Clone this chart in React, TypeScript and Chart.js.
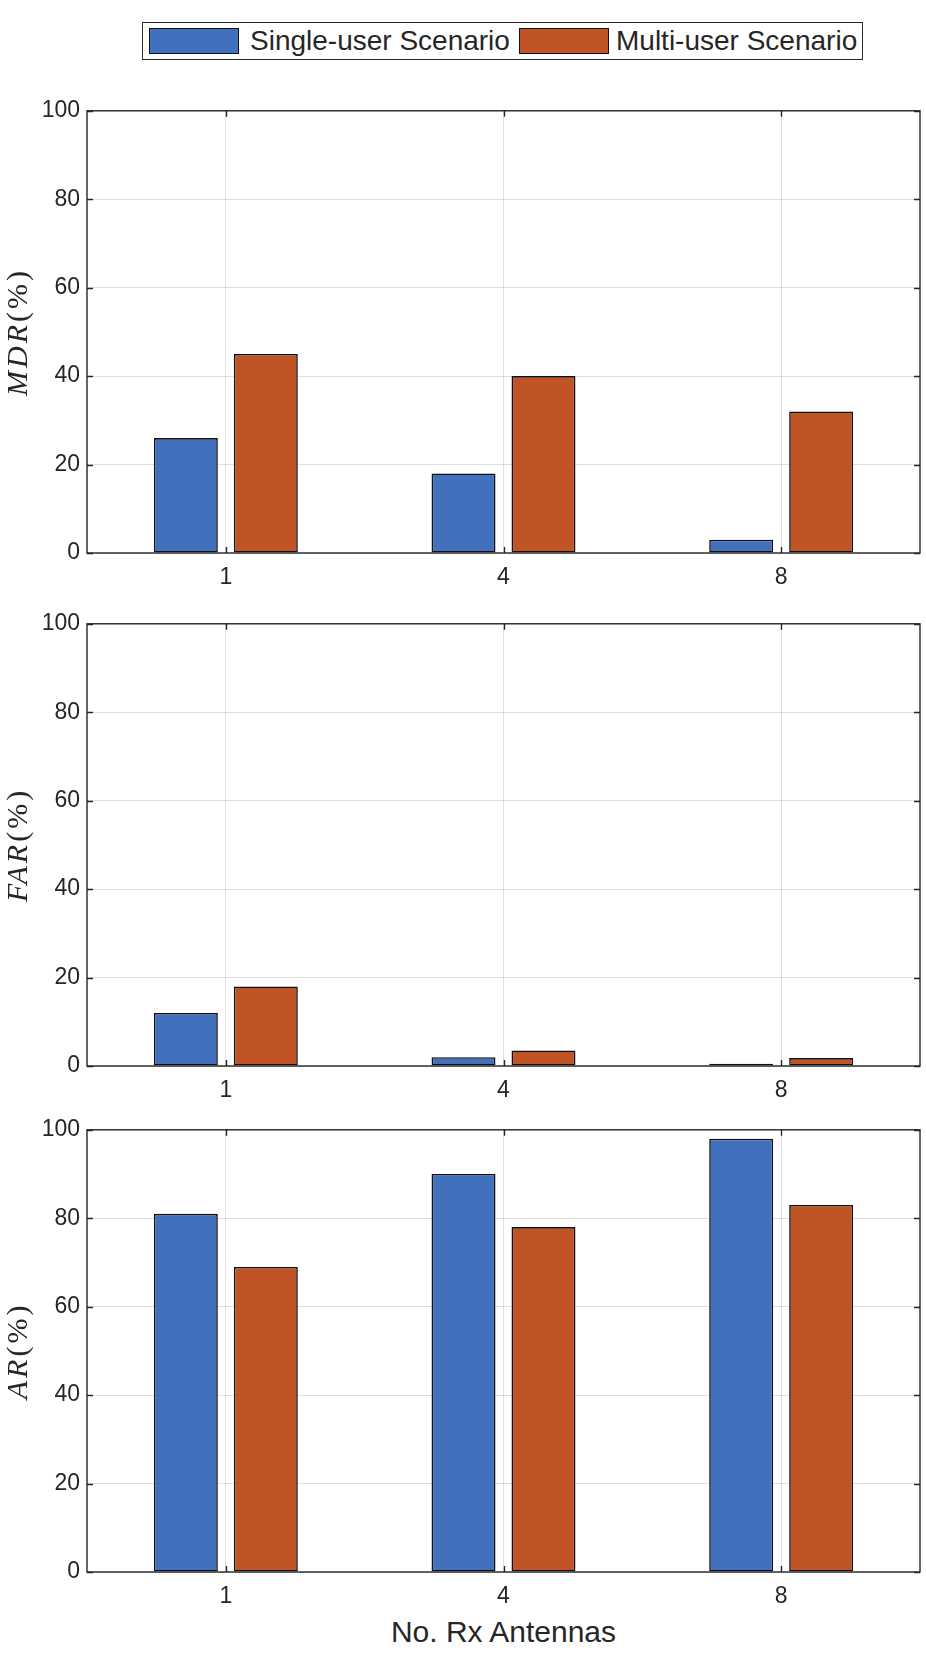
import React, { useEffect, useRef } from "react";
import { Chart, registerables } from "chart.js";

Chart.register(...registerables);

// ---- data ----
const categories = ["1", "4", "8"];
const seriesLabels = ["Single-user Scenario", "Multi-user Scenario"];
const mdrSingle = [26, 18, 3];
const mdrMulti = [45, 40, 32];
const farSingle = [12, 2, 0.5];
const farMulti = [18, 3.5, 1.8];
const arSingle = [81, 90, 98];
const arMulti = [69, 78, 83];
const yMin = 0;
const yMax = 100;
const yStep = 20;
const panelNames = ["MDR", "FAR", "AR"];
const xAxisLabel = "No. Rx Antennas";

// ---- style ----
const BLUE = "#4171bc";
const ORANGE = "#c05424";
const TEXT = "#262626";
const GRID = "rgba(38,38,38,0.15)";
const SANS = "'Liberation Sans', Arial, Helvetica, sans-serif";
const SERIF = "'Liberation Serif', 'Times New Roman', serif";

const PAD_TOP = 15;
const X_AXIS_H = 40;
const Y_AXIS_W = 87;
const PLOT_H = 448;

const framePlugin = {
  id: "matlabFrame",
  afterDatasetsDraw(chart: any, _args: any, opts: any) {
    const { ctx, chartArea: a, scales } = chart;
    ctx.save();
    ctx.strokeStyle = TEXT;
    ctx.lineWidth = 1.4;
    const tl = 6;
    ctx.beginPath();
    scales.y.ticks.forEach((t: any) => {
      const y = Math.round(scales.y.getPixelForValue(t.value)) + 0.5;
      ctx.moveTo(a.left, y);
      ctx.lineTo(a.left + tl, y);
      ctx.moveTo(a.right, y);
      ctx.lineTo(a.right - tl, y);
    });
    scales.x.ticks.forEach((_t: any, i: number) => {
      const x = Math.round(scales.x.getPixelForTick(i)) + 0.5;
      ctx.moveTo(x, a.bottom);
      ctx.lineTo(x, a.bottom - tl);
      ctx.moveTo(x, a.top);
      ctx.lineTo(x, a.top + tl);
    });
    ctx.stroke();
    ctx.strokeRect(a.left, a.top, a.right - a.left, a.bottom - a.top);

    // y title: italic name + upright (%)
    const name: string = opts.name || "";
    const rest = "(%)";
    ctx.translate(19, (a.top + a.bottom) / 2);
    ctx.rotate(-Math.PI / 2);
    ctx.fillStyle = TEXT;
    ctx.textBaseline = "middle";
    (ctx as any).letterSpacing = "3px";
    ctx.font = `italic 30px ${SERIF}`;
    const w1 = ctx.measureText(name).width;
    ctx.font = `30px ${SERIF}`;
    const w2 = ctx.measureText(rest).width;
    const start = -(w1 + w2) / 2;
    ctx.font = `italic 30px ${SERIF}`;
    ctx.textAlign = "left";
    ctx.fillText(name, start, 0);
    ctx.font = `30px ${SERIF}`;
    ctx.fillText(rest, start + w1, 0);
    ctx.restore();
  },
};

function Panel(props: { top: number; single: number[]; multi: number[]; name: string }) {
  const ref = useRef<HTMLCanvasElement>(null);
  const height = PAD_TOP + PLOT_H + X_AXIS_H;
  useEffect(() => {
    if (!ref.current) return;
    const ds = (label: string, data: number[], color: string) => ({
      label,
      data,
      backgroundColor: color,
      borderColor: "#111",
      borderWidth: 1.6,
      borderSkipped: false,
      categoryPercentage: 0.576,
      barPercentage: 0.8,
    });
    const chart = new Chart(ref.current, {
      type: "bar",
      data: {
        labels: categories,
        datasets: [ds(seriesLabels[0], props.single, BLUE), ds(seriesLabels[1], props.multi, ORANGE)],
      },
      options: {
        responsive: false,
        animation: false,
        devicePixelRatio: 1,
        layout: { padding: { top: PAD_TOP, right: 6, left: 0, bottom: 0 } },
        plugins: {
          legend: { display: false },
          tooltip: { enabled: false },
          matlabFrame: { name: props.name },
        } as any,
        scales: {
          x: {
            grid: { offset: false, color: GRID, drawTicks: false },
            border: { display: false },
            ticks: { padding: 11, color: TEXT, font: { family: SANS, size: 23 } },
            afterFit(s: any) {
              s.height = X_AXIS_H;
            },
          },
          y: {
            min: yMin,
            max: yMax,
            grid: { color: GRID, drawTicks: false },
            border: { display: false },
            ticks: { stepSize: yStep, padding: 7, color: TEXT, font: { family: SANS, size: 23 } },
            afterFit(s: any) {
              s.width = Y_AXIS_W;
            },
          },
        },
      },
      plugins: [framePlugin],
    } as any);
    return () => chart.destroy();
  }, []);
  return (
    <canvas
      ref={ref}
      width={926}
      height={height}
      style={{ position: "absolute", left: 0, top: props.top - PAD_TOP, width: 926, height }}
    />
  );
}

export default function App() {
  const swatch = (color: string, left: number) => (
    <div
      style={{
        position: "absolute",
        left,
        top: 5,
        width: 90,
        height: 26,
        background: color,
        border: "1.5px solid #111",
        boxSizing: "border-box",
      }}
    />
  );
  const label = (text: string, left: number) => (
    <div
      style={{
        position: "absolute",
        left,
        top: 0,
        height: 36,
        lineHeight: "36px",
        fontFamily: SANS,
        fontSize: 28,
        color: TEXT,
        whiteSpace: "nowrap",
      }}
    >
      {text}
    </div>
  );
  return (
    <div style={{ position: "absolute", left: 0, top: 0, width: 926, height: 1656, background: "#fff", overflow: "hidden" }}>
      <div
        style={{
          position: "absolute",
          left: 142,
          top: 22,
          width: 721,
          height: 38,
          border: "1.3px solid #262626",
          boxSizing: "border-box",
          background: "#fff",
        }}
      >
        {swatch(BLUE, 6)}
        {label(seriesLabels[0], 107)}
        {swatch(ORANGE, 376)}
        {label(seriesLabels[1], 473)}
      </div>
      <Panel top={105} single={mdrSingle} multi={mdrMulti} name={panelNames[0]} />
      <Panel top={618} single={farSingle} multi={farMulti} name={panelNames[1]} />
      <Panel top={1124} single={arSingle} multi={arMulti} name={panelNames[2]} />
      <div
        style={{
          position: "absolute",
          left: 87,
          width: 833,
          top: 1615,
          textAlign: "center",
          fontFamily: SANS,
          fontSize: 30,
          color: TEXT,
          lineHeight: "34px",
        }}
      >
        {xAxisLabel}
      </div>
    </div>
  );
}
